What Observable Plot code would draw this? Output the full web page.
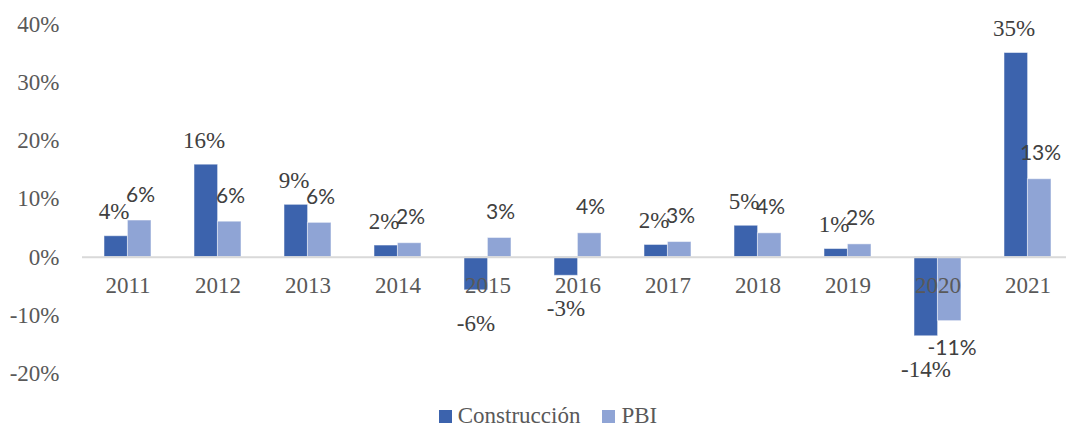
<!DOCTYPE html>
<html>
<head>
<meta charset="utf-8">
<script src="https://cdn.jsdelivr.net/npm/d3@7"></script>
<script src="https://cdn.jsdelivr.net/npm/@observablehq/plot@0.6"></script>
<style>
  html, body { margin: 0; padding: 0; background: #fff; }
  #chart { width: 1066px; }
  .legend { height: 32px; display: flex; justify-content: center; align-items: center; gap: 22px;
    font-family: 'Liberation Serif', 'Times New Roman', serif; font-size: 23px; color: #595959; padding-left: 30px; box-sizing: border-box; }
  .legend span.item { display: flex; align-items: center; gap: 6px; }
  .legend i { display: inline-block; width: 13px; height: 13px; }
</style>
</head>
<body>
<div id="chart"></div>
<script>
const years = ["2011","2012","2013","2014","2015","2016","2017","2018","2019","2020","2021"];
const construccion = [3.6, 15.9, 9.0, 2.0, -5.7, -3.2, 2.1, 5.4, 1.4, -13.6, 35.1];
const pbi = [6.3, 6.1, 5.9, 2.4, 3.3, 4.1, 2.6, 4.1, 2.2, -11.0, 13.4];
const yTicks = [-20, -10, 0, 10, 20, 30, 40];
const seriesNames = ["Construcción", "PBI"];
const colors = ["#3c63ad", "#8fa4d5"];

const dataC = years.map((y, i) => ({year: y, value: construccion[i]}));
const dataP = years.map((y, i) => ({year: y, value: pbi[i]}));
const fmt = v => `${Math.round(v)}%`;
const half = 23.4;

const serif = "'Liberation Serif', 'Times New Roman', serif";
const sans = "Lato, sans-serif";

const chart = Plot.plot({
  width: 1066,
  height: 400,
  marginTop: 24,
  marginBottom: 27,
  marginLeft: 82,
  marginRight: 0,
  style: {fontFamily: serif, background: "white", overflow: "visible"},
  x: {type: "band", domain: years, range: [82, 1073], paddingInner: 0.48, paddingOuter: 0.24, axis: null},
  y: {domain: [-20, 40], axis: null},
  marks: [
    Plot.axisY({ticks: yTicks, tickSize: 0, tickPadding: 23, tickFormat: d => `${d}%`,
      fontSize: 23, fill: "#595959", label: null, fontFamily: serif}),
    Plot.barY(dataC, {x: "year", y: "value", fill: colors[0], insetRight: half, stroke: "white", strokeOpacity: 0.5, strokeWidth: 1}),
    Plot.barY(dataP, {x: "year", y: "value", fill: colors[1], insetLeft: half, stroke: "white", strokeOpacity: 0.5, strokeWidth: 1}),
    Plot.ruleY([0], {stroke: "#d9d9d9", strokeWidth: 2}),
    Plot.text(years, {x: d => d, y: 0, dy: 28.6, text: d => d, fontSize: 23, fill: "#595959", fontFamily: serif}),
    Plot.text(dataC.filter(d => d.value >= 0), {x: "year", y: "value", text: d => fmt(d.value), dx: -14, dy: -24.4,
      fontSize: 23, fill: "#404040", fontFamily: serif}),
    Plot.text(dataC.filter(d => d.value < 0), {x: "year", y: "value", text: d => fmt(d.value), dx: -12, dy: 33,
      fontSize: 23, fill: "#404040", fontFamily: serif}),
    Plot.text(dataP.filter(d => d.value >= 0), {x: "year", y: "value", text: d => fmt(d.value), dx: 12.5, dy: -25.7,
      fontSize: 21, fill: "#404040", fontFamily: sans}),
    Plot.text(dataP.filter(d => d.value < 0), {x: "year", y: "value", text: d => fmt(d.value), dx: 14, dy: 27,
      fontSize: 21, fill: "#404040", fontFamily: sans})
  ]
});
document.getElementById("chart").appendChild(chart);

const legend = document.createElement("div");
legend.className = "legend";
seriesNames.forEach((name, i) => {
  const item = document.createElement("span");
  item.className = "item";
  const sw = document.createElement("i");
  sw.style.background = colors[i];
  item.appendChild(sw);
  item.appendChild(document.createTextNode(name));
  legend.appendChild(item);
});
document.getElementById("chart").appendChild(legend);
</script>
</body>
</html>
